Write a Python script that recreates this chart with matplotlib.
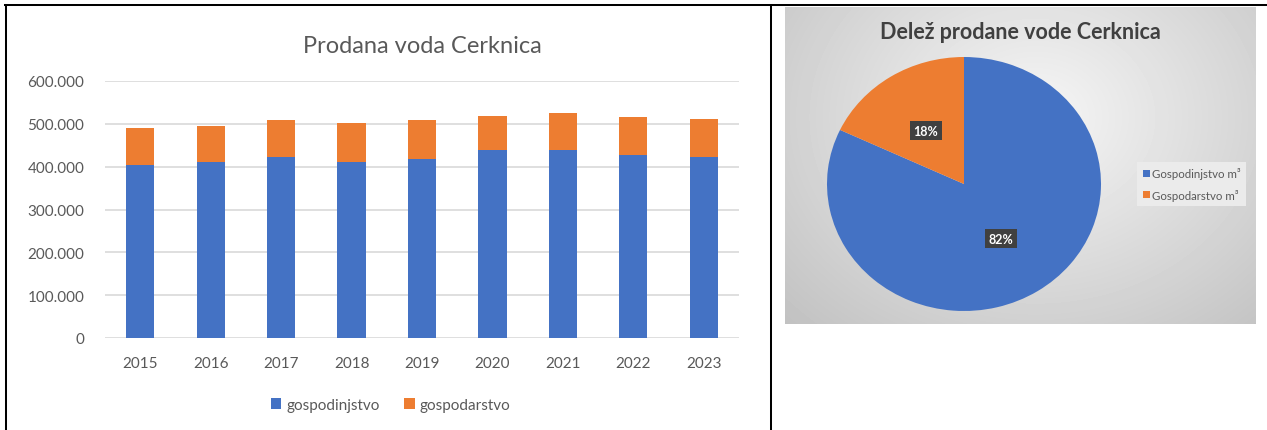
import numpy as np
import matplotlib.pyplot as plt
from matplotlib.lines import Line2D
from matplotlib.ticker import FuncFormatter

plt.rcParams['font.family'] = ['Lato', 'DejaVu Sans']

# Podatki
leta = ['2015', '2016', '2017', '2018', '2019', '2020', '2021', '2022', '2023']
gospodinjstvo = [404000, 411000, 422000, 411000, 417000, 438000, 438000, 427000, 422000]
gospodarstvo = [87000, 85000, 87000, 91000, 92000, 81000, 88000, 89000, 90000]

delez_oznake = ['Gospodinjstvo m³', 'Gospodarstvo m³']
delez = [82, 18]

modra = '#4472C4'
oranzna = '#ED7D31'
siva = '#595959'

W, H = 1267, 431
fig = plt.figure(figsize=(W / 100, H / 100), dpi=100)


def ax_px(x0, y0, x1, y1):
    # pravokotnik v pikslih (od zgoraj) -> osi
    return fig.add_axes([x0 / W, 1 - y1 / H, (x1 - x0) / W, (y1 - y0) / H])


# Levi graf - stolpci
ax = ax_px(105, 82, 739, 339)
x = np.arange(len(leta))
ax.bar(x, gospodinjstvo, 0.4, color=modra, label='gospodinjstvo', zorder=3)
ax.bar(x, gospodarstvo, 0.4, bottom=gospodinjstvo, color=oranzna,
       label='gospodarstvo', zorder=3)
ax.set_xlim(-0.5, len(leta) - 0.5)
ax.set_ylim(0, 600000)
ax.set_yticks(range(0, 600001, 100000))
ax.yaxis.set_major_formatter(FuncFormatter(lambda v, p: f'{int(v):,}'.replace(',', '.')))
ax.set_xticks(x, leta)
ax.tick_params(length=0, labelsize=11, labelcolor=siva)
ax.tick_params(axis='y', pad=15)
ax.tick_params(axis='x', pad=13)
ax.grid(axis='y', color='#d9d9d9', lw=1.2, zorder=0)
for s in ax.spines.values():
    s.set_visible(False)
ax.set_title('Prodana voda Cerknica', fontsize=17, color=siva, pad=21)
leg = ax.legend(loc='center', bbox_to_anchor=(0.45, -0.26), ncol=2, frameon=False,
                fontsize=11, handlelength=0.7, handleheight=0.7, handletextpad=0.3,
                columnspacing=1.6)
for t in leg.get_texts():
    t.set_color(siva)

# Desni graf - ozadje z gradientom
bg = ax_px(785, 8, 1256, 325)
yy, xx = np.mgrid[0:317, 0:471]
r = np.sqrt(((xx - 250) / 340) ** 2 + ((yy - 110) / 280) ** 2)
bg.imshow(np.clip(0.965 - 0.2 * r, 0.75, 0.965), cmap='gray', vmin=0, vmax=1,
          aspect='auto', interpolation='bilinear')
bg.axis('off')

# Pita
pax = ax_px(827, 58, 1101, 312)
pax.pie(delez, colors=[modra, oranzna], startangle=90, counterclock=False, radius=1)
pax.set_aspect('auto')
pax.set_xlim(-1, 1)
pax.set_ylim(-1, 1)
lab_pos = [(0.27, -0.43), (-0.28, 0.42)]
for (lx, ly), v in zip(lab_pos, delez):
    pax.text(lx, ly, f'{v}%', ha='center', va='center', color='white',
             fontsize=9, fontweight='bold',
             bbox=dict(boxstyle='square,pad=0.3', fc='#404040', ec='none'))
pleg = pax.legend(delez_oznake, loc='center left', bbox_to_anchor=(1.11, 0.5),
                  fontsize=8.3, frameon=True, facecolor='#ebebeb', edgecolor='none',
                  framealpha=1, fancybox=False, handlelength=0.6, handleheight=0.6,
                  handletextpad=0.2, labelspacing=0.8, borderpad=0.5)
for t in pleg.get_texts():
    t.set_color(siva)

fig.text(1020 / W, 1 - 39 / H, 'Delež prodane vode Cerknica', ha='center',
         va='baseline', fontsize=15.5, fontweight='bold', color='#404040')

# Okvir tabele
lw = 1.45
fig.add_artist(Line2D([5 / W, 1], [1 - 6 / H] * 2, color='black', lw=lw))
fig.add_artist(Line2D([6 / W] * 2, [0, 1 - 6 / H], color='black', lw=lw))
fig.add_artist(Line2D([771 / W] * 2, [0, 1 - 6 / H], color='black', lw=lw))

fig.savefig('out.png', dpi=100)
